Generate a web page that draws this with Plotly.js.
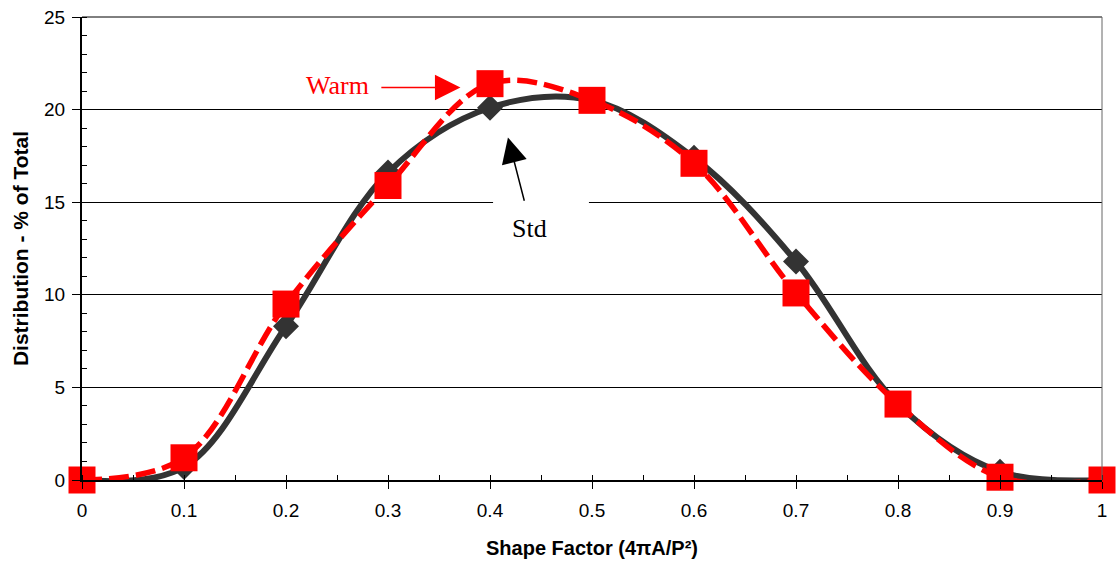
<!DOCTYPE html>
<html>
<head>
<meta charset="utf-8">
<script src="https://cdn.plot.ly/plotly-3.0.1.min.js"></script>
<style>html,body{margin:0;padding:0;background:#fff;}#chart{width:1117px;height:567px;}</style>
</head>
<body>
<div id="chart"></div>
<script>
const shapeFactor = [0, 0.1, 0.2, 0.3, 0.4, 0.5, 0.6, 0.7, 0.8, 0.9, 1.0];
const stdValues  = [0, 0.7, 8.3, 16.6, 20.1, 20.5, 17.4, 11.8, 4.1, 0.45, 0];
const warmValues = [0, 1.2, 9.5, 15.9, 21.4, 20.5, 17.1, 10.1, 4.1, 0.15, 0];
const xTickVals = [0, 0.1, 0.2, 0.3, 0.4, 0.5, 0.6, 0.7, 0.8, 0.9, 1];
const xTickText = ['0', '0.1', '0.2', '0.3', '0.4', '0.5', '0.6', '0.7', '0.8', '0.9', '1'];
const yTickVals = [0, 5, 10, 15, 20, 25];

const traces = [
  {
    x: shapeFactor, y: stdValues, name: 'Std', type: 'scatter', mode: 'lines+markers',
    line: {color: '#333333', width: 6, shape: 'spline', smoothing: 1},
    marker: {symbol: 'diamond', size: 20, color: '#333333'},
    cliponaxis: false
  },
  {
    x: shapeFactor, y: warmValues, name: 'Warm', type: 'scatter', mode: 'lines+markers',
    line: {color: '#ff0000', width: 5.5, shape: 'spline', smoothing: 1, dash: '20px,7px'},
    marker: {symbol: 'square', size: 27, color: '#ff0000'},
    cliponaxis: false
  }
];

const layout = {
  width: 1117, height: 567,
  margin: {l: 82, r: 15, t: 17, b: 87},
  paper_bgcolor: '#fff', plot_bgcolor: '#fff',
  showlegend: false,
  font: {family: 'Liberation Sans, Arial, sans-serif', color: '#000'},
  xaxis: {
    range: [0, 1], tickvals: xTickVals, ticktext: xTickText,
    showgrid: false, zeroline: false,
    showline: true, linecolor: '#000', linewidth: 2,
    ticks: 'outside', ticklen: 7, tickwidth: 1, tickcolor: '#000',
    ticklabelstandoff: 5,
    tickfont: {size: 19},
    minor: {dtick: 0.05, ticks: 'inside', ticklen: 5, tickwidth: 1, tickcolor: '#000', showgrid: false},
    title: {text: '<b>Shape Factor (4πA/P²)</b>', font: {size: 20}, standoff: 21}
  },
  yaxis: {
    range: [0, 25], tickvals: yTickVals,
    showgrid: true, gridcolor: '#000', gridwidth: 1, zeroline: false,
    showline: true, linecolor: '#000', linewidth: 2,
    ticks: 'outside', ticklen: 8, tickwidth: 1, tickcolor: '#000',
    ticklabelstandoff: 3,
    tickfont: {size: 19},
    minor: {dtick: 1, ticks: 'inside', ticklen: 5, tickwidth: 1, tickcolor: '#000', showgrid: false},
    title: {text: '<b>Distribution - % of Total</b>', font: {size: 21}, standoff: 10}
  },
  shapes: [
    {type: 'line', xref: 'paper', yref: 'paper', x0: 0, x1: 1, y0: 1, y1: 1, line: {color: '#000', width: 1}},
    {type: 'line', xref: 'paper', yref: 'paper', x0: 1, x1: 1, y0: 0, y1: 1, line: {color: '#666', width: 1}},
    {type: 'rect', xref: 'x', yref: 'y', x0: 0.403, x1: 0.497, y0: 13.0, y1: 15.8, layer: 'between',
     fillcolor: '#fff', line: {width: 0}}
  ],
  annotations: [
    {x: 0.371, y: 21.2, xref: 'x', yref: 'y', ax: 0.292, ay: 21.2, axref: 'x', ayref: 'y',
     text: '', showarrow: true, arrowhead: 2, arrowsize: 3.4, arrowwidth: 1.5, arrowcolor: '#ff0000'},
    {x: 0.25, y: 21.3, xref: 'x', yref: 'y', text: 'Warm', showarrow: false,
     font: {family: 'Liberation Serif, Times New Roman, serif', size: 26, color: '#ff0000'}},
    {x: 0.4176, y: 18.5, xref: 'x', yref: 'y', ax: 0.434, ay: 15.0, axref: 'x', ayref: 'y',
     text: '', showarrow: true, arrowhead: 2, arrowsize: 3.4, arrowwidth: 1.5, arrowcolor: '#000'},
    {x: 0.4387, y: 13.6, xref: 'x', yref: 'y', text: 'Std', showarrow: false,
     font: {family: 'Liberation Serif, Times New Roman, serif', size: 26, color: '#000'}}
  ]
};

Plotly.newPlot('chart', traces, layout, {displayModeBar: false, staticPlot: true});
</script>
</body>
</html>
